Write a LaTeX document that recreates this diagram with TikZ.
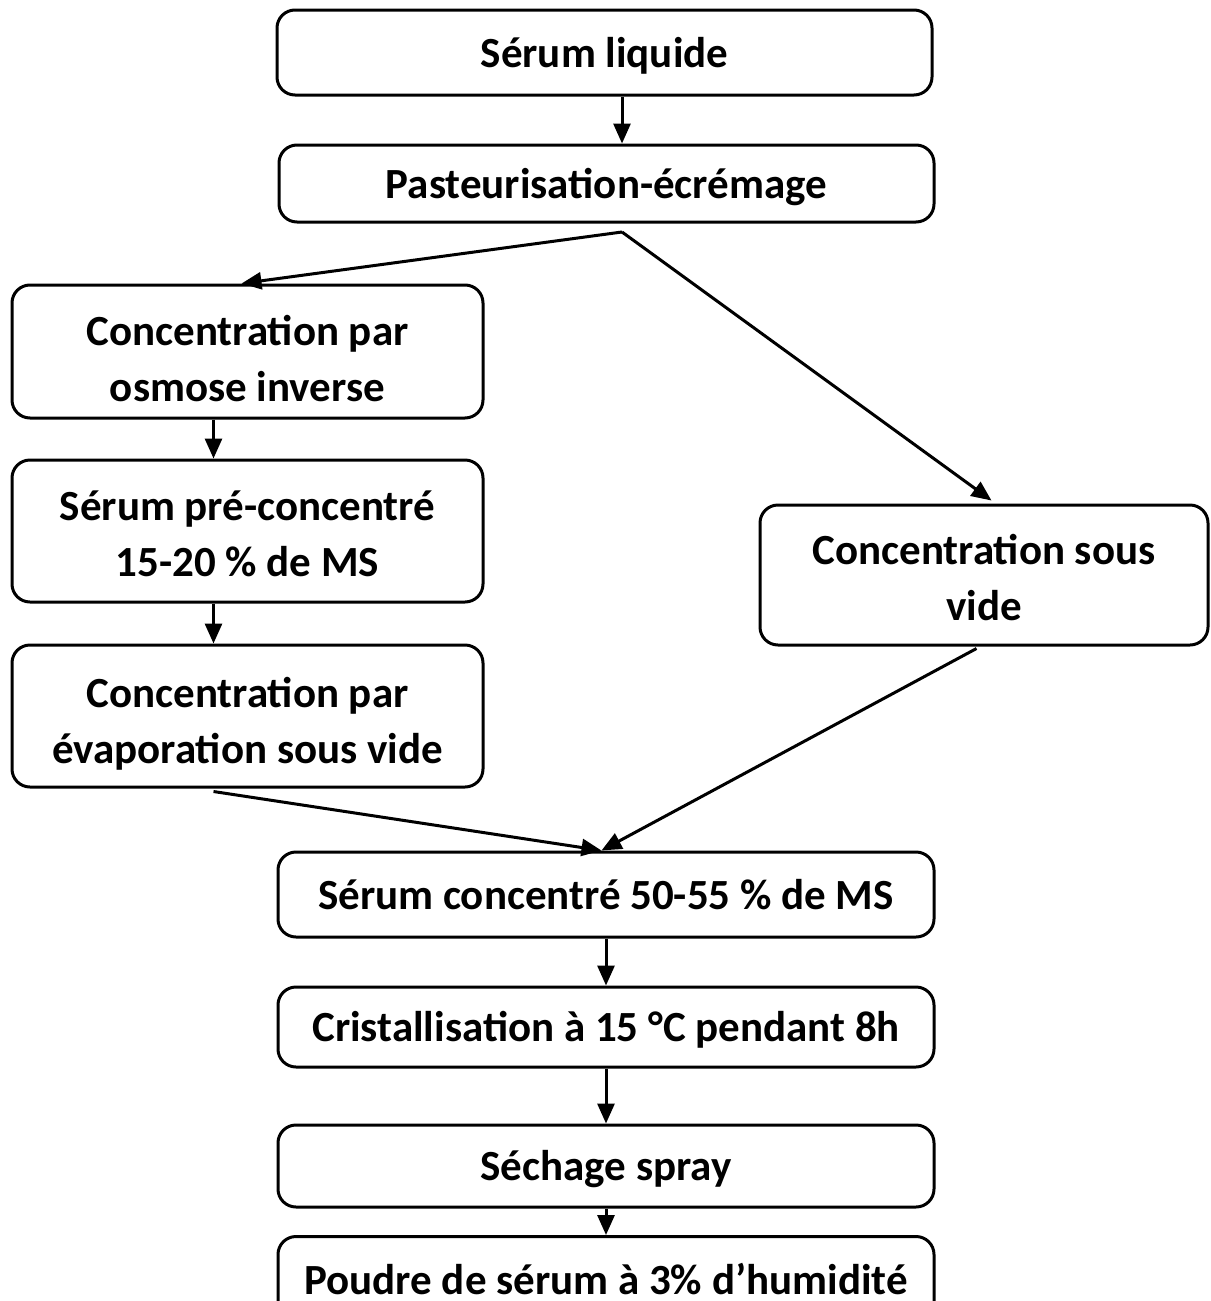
\documentclass[tikz,border=0pt]{standalone}
\usepackage{fontspec}
\setmainfont{Carlito}
\usetikzlibrary{arrows.meta,calc}
\tikzset{
  stepbox/.style={draw, line width=3pt, rounded corners=18pt, align=center,
    inner sep=0pt, font=\fontsize{43}{56}\selectfont\bfseries},
  onebox/.style={stepbox, text height=39pt, text depth=10pt},
  twobox/.style={stepbox, text height=101pt, text depth=10pt},
  flow/.style={line width=3pt, -{Triangle[length=20pt,width=17pt]}}
}
\begin{document}
\begin{tikzpicture}[x=1pt,y=-1pt]
\useasboundingbox (0,0) rectangle (1210,1301);
\clip (0,0) rectangle (1210,1301);
% main column
\node[onebox, minimum width=655pt, minimum height=85pt] (b1) at (604.5,52.5) {Sérum liquide};
\node[onebox, minimum width=655pt, minimum height=77pt] (b2) at (606.5,183.5) {Pasteurisation-écrémage};
% left branch
\node[twobox, text height=110pt, minimum width=471pt, minimum height=133pt] (b3) at (247.5,351.5) {Concentration par\\osmose inverse};
\node[twobox, minimum width=471pt, minimum height=142pt] (b4) at (247.5,531) {Sérum pré-concentré\\15-20 \% de MS};
\node[twobox, text height=105pt, minimum width=471pt, minimum height=142pt] (b5) at (247.5,716) {Concentration par\\évaporation sous vide};
% right branch
\node[twobox, minimum width=448pt, minimum height=140pt] (b6) at (984,575) {Concentration sous\\vide};
% lower column
\node[onebox, minimum width=656pt, minimum height=85pt] (b7) at (606,894.5) {Sérum concentré 50-55 \% de MS};
\node[onebox, minimum width=656pt, minimum height=80pt] (b8) at (606,1027) {Cristallisation à 15 °C pendant 8h};
\node[onebox, minimum width=656pt, minimum height=82pt] (b9) at (606,1166) {Séchage spray};
\node[onebox, minimum width=656pt, minimum height=86pt, anchor=north] (b10) at (606,1235) {Poudre de sérum à 3\% d’humidité};
% split point below the pasteurisation step
\coordinate (split) at (622,232);
\coordinate (b3in) at ($(b3.north west)+(231,0)$);
\coordinate (b6in) at ($(b6.north west)+(233,-3)$);
\coordinate (b5out) at ($(b5.south west)+(203,3)$);
\coordinate (b6out) at ($(b6.south west)+(218,2)$);
\coordinate (b7in) at ($(b7.north west)+(325,0)$);
% connectors
\draw[flow] (b1.south -| split) -- (b2.north -| split);
\draw[flow] (split) -- (b3in);
\draw[flow] (split) -- (b6in);
\draw[flow] ($(b3.south west)+(203,0)$) -- ($(b4.north west)+(203,0)$);
\draw[flow] ($(b4.south west)+(203,0)$) -- ($(b5.north west)+(203,0)$);
\draw[flow] (b5out) -- (b7in);
\draw[flow] (b6out) -- (b7in);
\draw[flow] (b7.south) -- (b8.north);
\draw[flow] (b8.south) -- (b9.north);
\draw[flow] (b9.south) -- (b10.north);
\end{tikzpicture}
\end{document}
